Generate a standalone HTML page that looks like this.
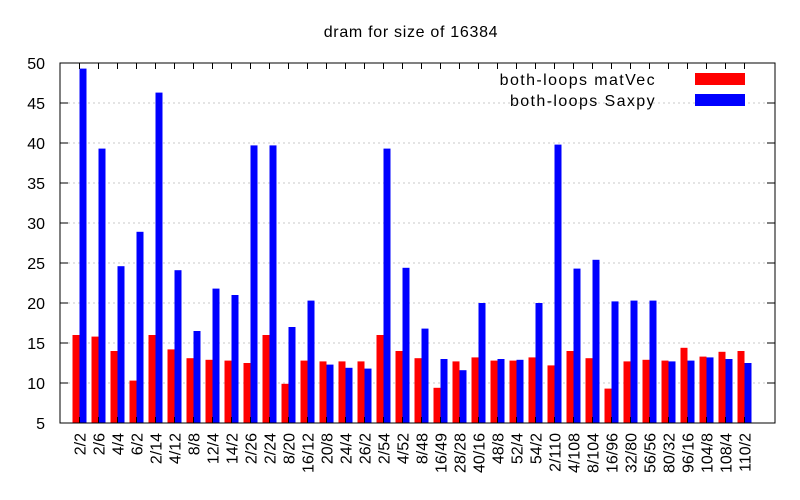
<!DOCTYPE html>
<html><head><meta charset="utf-8"><style>
body{margin:0;background:#fff}
svg{display:block;font-family:"Liberation Sans",sans-serif}
</style></head><body>
<svg id="chart" width="800" height="500">
<rect width="800" height="500" fill="#fff"/>
</svg>
<script>
const categories=["2/2","2/6","4/4","6/2","2/14","4/12","8/8","12/4","14/2","2/26","2/24","8/20","16/12","20/8","24/4","26/2","2/54","4/52","8/48","16/49","28/28","40/16","48/8","52/4","54/2","2/110","4/108","8/104","16/96","32/80","56/56","80/32","96/16","104/8","108/4","110/2"];
const matVec=[16,15.8,14,10.3,16,14.2,13.1,12.9,12.8,12.5,16,9.9,12.8,12.7,12.7,12.7,16,14,13.1,9.4,12.7,13.2,12.8,12.8,13.2,12.2,14,13.1,9.3,12.7,12.9,12.8,14.4,13.3,13.9,14];
const saxpy=[49.3,39.3,24.6,28.9,46.3,24.1,16.5,21.8,21,39.7,39.7,17,20.3,12.3,11.9,11.8,39.3,24.4,16.8,13,11.6,20,13,12.9,20,39.8,24.3,25.4,20.2,20.3,20.3,12.7,12.8,13.2,13,12.5];
const yTicks=[5,10,15,20,25,30,35,40,45,50];
const svg=document.getElementById('chart');
const NS='http://www.w3.org/2000/svg';
const L=60,R=775,T=63,B=423;
const y=v=>B-(v-5)*(B-T)/45;
const x=i=>79.5+i*19;
function mk(tag,attrs,parent){const e=document.createElementNS(NS,tag);for(const k in attrs)e.setAttribute(k,attrs[k]);(parent||svg).appendChild(e);return e;}
const title=mk('text',{x:411,y:37,'text-anchor':'middle','font-size':16,'letter-spacing':0.7});
title.textContent='dram for size of 16384';


yTicks.forEach(v=>{
  if(v>5&&v<50){
    const g=mk('line',{x1:L+8,x2:R-8,y1:y(v),y2:y(v),stroke:'#c8c8c8','stroke-dasharray':'2,3'});
    
    
  }
  mk('line',{x1:L,x2:L+8,y1:y(v),y2:y(v),stroke:'#000'});
  mk('line',{x1:R,x2:R-8,y1:y(v),y2:y(v),stroke:'#000'});
  const t=mk('text',{x:L-15,y:y(v)+6,'text-anchor':'end','font-size':16});
  t.textContent=v;
  
  
});
categories.forEach((c,i)=>{
  const r=mk('rect',{x:x(i)-7,y:y(matVec[i]),width:7,height:B-y(matVec[i]),fill:'#ff0000'});
  
  
  const b=mk('rect',{x:x(i),y:y(saxpy[i]),width:7,height:B-y(saxpy[i]),fill:'#0000ff'});
  
  
  mk('line',{x1:x(i),x2:x(i),y1:B,y2:B-6,stroke:'#000'});
  mk('line',{x1:x(i),x2:x(i),y1:T,y2:T+6,stroke:'#000'});
  const t=mk('text',{x:0,y:0,'text-anchor':'end','font-size':16,transform:`translate(${x(i)+6},${B+10}) rotate(-90)`});
  t.textContent=c;
  
  
});
const frame=mk('rect',{x:L,y:T,width:R-L,height:B-T,fill:'none',stroke:'#000','stroke-width':1});


const lg=mk('g',{});


[["both-loops matVec","#ff0000",79],["both-loops Saxpy","#0000ff",100]].forEach(([n,c,yy])=>{
  const t=mk('text',{x:656,y:yy+6,'text-anchor':'end','font-size':16,'letter-spacing':1.4},lg);
  t.textContent=n;
  
  
  mk('rect',{x:695,y:yy-6,width:50,height:12,fill:c},lg);
});
</script>
</body></html>
